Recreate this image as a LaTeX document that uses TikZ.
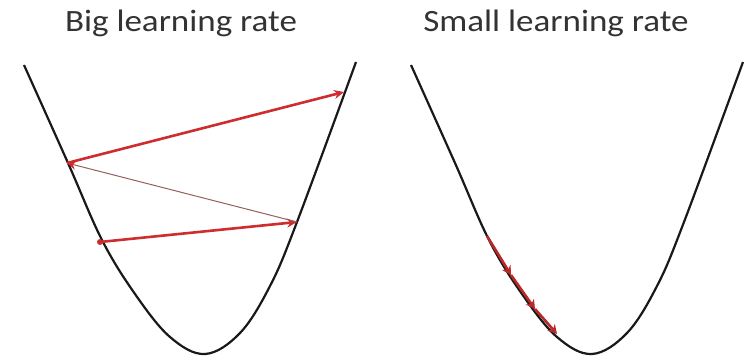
\documentclass[tikz,border=0pt]{standalone}
\usepackage{fontspec}
\setmainfont{Carlito}
\usetikzlibrary{arrows.meta}
\definecolor{jumpred}{RGB}{205,45,45}
\definecolor{backline}{RGB}{150,95,90}
\begin{document}
\begin{tikzpicture}[x=1pt,y=-1pt,
  every node/.style={font=\fontsize{31}{34}\selectfont,text=black!80,xscale=1.13},
  bowl/.style={line width=2.2pt,black!90,line join=round},
  jump/.style={line width=2.6pt,jumpred,-{Stealth[length=10pt,width=9pt]}},
  back/.style={line width=1pt,backline,-{Stealth[length=9pt,width=9pt,jumpred]}},
  creep/.style={line width=2.6pt,jumpred!90!black,-{Stealth[length=9pt,width=10pt]}}]
\useasboundingbox (0,0) rectangle (750,358);
% Titles
\node (bigtitle) at (181,23) {Big learning rate};
\node (smalltitle) at (556,23) {Small learning rate};
% Loss curves
\foreach \dx in {0,387}
  \draw[bowl,shift={(\dx,0)}] plot[smooth,tension=0.6] coordinates
    {(24,65) (68,163) (102,240) (135,294) (170,337) (205,354) (240,333)
     (270,286) (297,222) (356,62)};
% Big steps
\coordinate (d) at (100,242);
\coordinate (c) at (297,222);
\coordinate (a) at (67,163);
\coordinate (b) at (344,92);
\fill[jumpred] (d) circle (3pt);
\draw[jump] (d) -- (c);
\draw[back] (c) -- (a);
\draw[jump] (a) -- (b);
% Small steps
\coordinate (s0) at (487,236);
\coordinate (s1) at (511,275);
\coordinate (s2) at (535,309);
\coordinate (s3) at (557,334);
\draw[creep] (s0) -- (s1);
\draw[creep] (s1) -- (s2);
\draw[creep] (s2) -- (s3);
\end{tikzpicture}
\end{document}
